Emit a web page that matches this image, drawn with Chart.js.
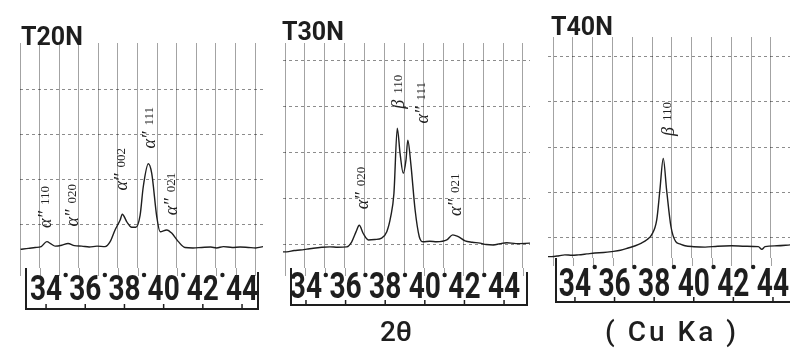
<!DOCTYPE html>
<html>
<head>
<meta charset="utf-8">
<script src="https://cdn.jsdelivr.net/npm/chart.js@4.4.1/dist/chart.umd.min.js"></script>
<style>
body { margin: 0; background: #fff; }
#wrap { position: relative; width: 790px; height: 351px; overflow: hidden; }
#wrap canvas { position: absolute; left: 0; top: 0; }
.ttl { position: absolute; font-family: Roboto, 'DejaVu Sans', sans-serif; font-weight: 700; color: #1e1e1e; font-size: 25px; line-height: 1; }
.cap { position: absolute; font-family: Roboto, 'DejaVu Sans', sans-serif; font-weight: 500; color: #1e1e1e; font-size: 28px; line-height: 1; text-align: center; width: 200px; }
</style>
</head>
<body>
<div id="wrap">
  <canvas id="c20" width="790" height="351"></canvas>
  <canvas id="c30" width="790" height="351"></canvas>
  <canvas id="c40" width="790" height="351"></canvas>
  <div class="ttl" style="left:21px;top:24px">T20N</div>
  <div class="ttl" style="left:282px;top:19px">T30N</div>
  <div class="ttl" style="left:551px;top:14px">T40N</div>
  <div class="cap" style="left:296px;top:318px">2θ</div>
  <div class="cap" style="left:572px;top:318px;letter-spacing:3px">( Cu Ka )</div>
</div>
<script>
// 2theta tick labels, odd-degree dots on the strip
var xTicks = [34, 36, 38, 40, 42, 44];
var xDots = [35, 37, 39, 41, 43];

// T20N trace (2theta, intensity in grid units)
var t20x = [32.70, 33.10, 33.44, 33.75, 34.04, 34.25, 34.46, 34.80, 35.12, 35.45, 35.82, 36.20, 36.60, 37.01, 37.27, 37.52, 37.78, 37.89, 38.12, 38.37, 38.58, 38.80, 38.96, 39.22, 39.39, 39.65, 39.82, 40.16, 40.41, 40.75, 41.09, 41.50, 41.94, 42.40, 42.70, 43.05, 43.50, 43.90, 44.32, 44.70, 45.07];
var t20y = [0.46, 0.48, 0.50, 0.52, 0.63, 0.58, 0.53, 0.55, 0.59, 0.54, 0.53, 0.51, 0.53, 0.52, 0.63, 0.89, 1.11, 1.24, 1.07, 0.95, 0.95, 1.22, 1.85, 2.36, 2.15, 1.18, 0.85, 0.89, 0.82, 0.63, 0.50, 0.49, 0.50, 0.51, 0.49, 0.52, 0.50, 0.51, 0.50, 0.49, 0.52];
var t20Grid = [32.67, 33.67, 34.67, 35.67, 36.67, 37.67, 38.67, 39.67, 40.67, 41.67, 42.67, 43.67, 44.67];
var t20Rows = [1, 2, 3, 4];
var t20PeakPhase = ['α″', 'α″', 'α″', 'α″', 'α″'];
var t20PeakHkl = ['110', '020', '002', '111', '021'];
var t20PeakX = [33.95, 35.33, 37.83, 39.26, 40.38];
var t20PeakY = [1.40, 1.44, 2.24, 3.16, 1.69];

// T30N trace
var t30x = [32.84, 33.03, 33.40, 33.70, 34.05, 34.37, 34.80, 35.21, 35.60, 36.06, 36.31, 36.53, 36.69, 36.89, 37.15, 37.48, 37.82, 38.08, 38.28, 38.44, 38.61, 38.75, 38.91, 39.05, 39.14, 39.29, 39.51, 39.72, 39.92, 40.25, 40.60, 41.11, 41.41, 41.69, 42.03, 42.40, 42.79, 43.10, 43.46, 43.80, 44.14, 44.60, 45.31];
var t30y = [0.85, 0.85, 0.88, 0.89, 0.91, 0.93, 0.95, 0.96, 0.95, 0.96, 1.07, 1.29, 1.43, 1.25, 1.11, 1.12, 1.15, 1.29, 1.62, 2.12, 3.54, 2.99, 2.56, 2.85, 3.28, 2.78, 1.76, 1.18, 1.07, 1.08, 1.07, 1.11, 1.22, 1.18, 1.09, 1.06, 1.04, 1.01, 1.00, 1.03, 1.05, 1.03, 1.04];
var t30Grid = [32.95, 33.95, 34.95, 35.95, 36.95, 37.95, 38.95, 39.95, 40.95, 41.95, 42.95, 43.95, 44.95];
var t30Rows = [1, 2, 3, 4, 5];
var t30PeakPhase = ['α″', 'β', 'α″', 'α″'];
var t30PeakHkl = ['020', '110', '111', '021'];
var t30PeakX = [36.83, 38.65, 39.86, 41.53];
var t30PeakY = [2.24, 4.33, 4.09, 2.09];

// T40N trace
var t40x = [32.64, 32.82, 33.20, 33.49, 33.85, 34.17, 34.60, 35.01, 35.45, 35.85, 36.30, 36.69, 37.05, 37.36, 37.65, 37.87, 38.13, 38.29, 38.46, 38.63, 38.85, 39.09, 39.30, 39.56, 40.00, 40.57, 41.20, 41.91, 42.60, 43.26, 43.44, 43.60, 44.20, 44.86];
var t40y = [0.58, 0.58, 0.60, 0.62, 0.61, 0.62, 0.64, 0.66, 0.67, 0.69, 0.72, 0.77, 0.82, 0.88, 0.96, 1.06, 1.39, 2.05, 2.75, 2.05, 1.24, 0.91, 0.86, 0.82, 0.80, 0.79, 0.81, 0.82, 0.81, 0.80, 0.74, 0.80, 0.82, 0.84];
var t40Grid = [32.9, 33.9, 34.9, 35.9, 36.9, 37.9, 38.9, 39.9, 40.9, 41.9, 42.9, 43.9];
var t40Rows = [1, 2, 3, 4, 5];
var t40PeakPhase = ['β'];
var t40PeakHkl = ['110'];
var t40PeakX = [38.70];
var t40PeakY = [3.62];

var INK = '#1e1e1e';
var GRIDV = 'rgba(0,0,0,0.36)';

// strip under each trace: frame, stubs of the grid, narrow 2theta labels, ticks and dots
var stripPlugin = {
    id: 'strip',
    afterDraw: function(chart, args, o) {
        var xs = chart.scales.x, a = chart.chartArea, ctx = chart.ctx;
        var top = a.bottom, bot = top + o.ruleY;
        var l = a.left + o.inset, r = a.right - o.rightInset;
        ctx.save();
        // grid stubs
        ctx.strokeStyle = GRIDV;
        ctx.lineWidth = 1;
        o.grid.forEach(function(v) {
            var px = Math.round(xs.getPixelForValue(v)) + 0.5;
            ctx.beginPath();
            ctx.moveTo(px, top);
            ctx.lineTo(px, top + 8);
            ctx.stroke();
        });
        // labels, squeezed to the narrow chart lettering
        ctx.fillStyle = INK;
        ctx.font = 'bold ' + o.fontSize + 'px Roboto, sans-serif';
        ctx.textAlign = 'center';
        ctx.textBaseline = 'alphabetic';
        xs.ticks.forEach(function(t) {
            var px = xs.getPixelForValue(t.value);
            ctx.save();
            ctx.translate(px, top + o.labelBase);
            ctx.scale(o.squeeze, 1);
            ctx.fillText(String(t.value), 0, 0);
            ctx.restore();
        });
        // frame
        ctx.strokeStyle = INK;
        ctx.lineWidth = 2;
        ctx.beginPath();
        ctx.moveTo(l, top);
        ctx.lineTo(l, bot);
        ctx.lineTo(r, bot);
        if (o.closeRight) ctx.lineTo(r, top + 4);
        ctx.stroke();
        ctx.lineWidth = 1.5;
        xs.ticks.forEach(function(t) {
            var px = xs.getPixelForValue(t.value);
            ctx.beginPath();
            ctx.moveTo(px, bot);
            ctx.lineTo(px, bot - 5);
            ctx.stroke();
        });
        xDots.forEach(function(v) {
            var px = xs.getPixelForValue(v);
            if (px > a.right - 2) return;
            ctx.beginPath();
            ctx.arc(px, top + o.dotY, 2.2, 0, Math.PI * 2);
            ctx.fill();
        });
        ctx.restore();
    }
};

// rotated peak labels (alpha'' hkl / beta hkl)
var peakPlugin = {
    id: 'peaks',
    afterDatasetsDraw: function(chart, args, o) {
        var xs = chart.scales.x, ys = chart.scales.y, ctx = chart.ctx;
        var symFont = 'italic 18px "Liberation Serif", serif';
        var hklFont = '13px "Liberation Serif", serif';
        o.phase.forEach(function(ph, i) {
            var px = xs.getPixelForValue(o.px[i]), py = ys.getPixelForValue(o.py[i]);
            ctx.save();
            ctx.translate(px, py);
            ctx.rotate(-Math.PI / 2);
            ctx.fillStyle = '#222';
            ctx.textBaseline = 'middle';
            ctx.font = symFont;
            var w1 = ctx.measureText(ph).width;
            ctx.font = hklFont;
            var w2 = ctx.measureText(o.hkl[i]).width;
            var gap = 6, total = w1 + gap + w2;
            ctx.font = symFont;
            ctx.fillText(ph, -total / 2, 1);
            ctx.font = hklFont;
            ctx.fillText(o.hkl[i], -total / 2 + w1 + gap, 0);
            ctx.restore();
        });
    }
};

function panel(id, xs, ys, p) {
    var pts = xs.map(function(x, i) { return { x: x, y: ys[i] }; });
    p.strip.grid = p.grid;
    return new Chart(document.getElementById(id), {
        type: 'line',
        data: {
            datasets: [{
                data: pts, borderColor: INK, borderWidth: 1.4,
                pointRadius: 0, cubicInterpolationMode: 'monotone', fill: false
            }]
        },
        options: {
            responsive: false, animation: false, events: [],
            layout: { padding: p.pad },
            plugins: {
                legend: { display: false }, tooltip: { enabled: false },
                strip: p.strip,
                peaks: { phase: p.phase, hkl: p.hkl, px: p.px, py: p.py }
            },
            scales: {
                x: {
                    type: 'linear', min: p.xmin, max: p.xmax, position: 'bottom',
                    afterBuildTicks: function(s) { s.ticks = xTicks.map(function(v) { return { value: v }; }); },
                    afterFit: function(s) { s.height = p.stripH; },
                    grid: { display: false }, border: { display: false },
                    ticks: { display: false }
                },
                xg: {
                    type: 'linear', min: p.xmin, max: p.xmax, position: 'top',
                    afterBuildTicks: function(s) { s.ticks = p.grid.map(function(v) { return { value: v }; }); },
                    afterFit: function(s) { s.height = 0; },
                    grid: { color: GRIDV, lineWidth: 1, drawTicks: false },
                    border: { display: false }, ticks: { display: false }
                },
                y: {
                    min: p.ymin, max: p.ymax,
                    afterBuildTicks: function(s) { s.ticks = p.rows.map(function(v) { return { value: v }; }); },
                    afterFit: function(s) { s.width = 0; },
                    grid: { color: 'rgba(0,0,0,0.45)', lineWidth: 1, drawTicks: false },
                    border: { display: false, dash: [3, 3] }, ticks: { display: false }
                }
            }
        },
        plugins: [stripPlugin, peakPlugin]
    });
}

panel('c20', t20x, t20y, {
    pad: { left: 20, right: 527, top: 43, bottom: 40 }, stripH: 43,
    xmin: 32.67, xmax: 45.07, ymin: 0.044, ymax: 5.044,
    grid: t20Grid, rows: t20Rows,
    strip: { inset: 6, rightInset: 5, closeRight: true, dotY: 7, ruleY: 41, labelBase: 32, fontSize: 35, squeeze: 0.8 },
    phase: t20PeakPhase, hkl: t20PeakHkl, px: t20PeakX, py: t20PeakY
});
panel('c30', t30x, t30y, {
    pad: { left: 283, right: 260, top: 43, bottom: 40 }, stripH: 43,
    xmin: 32.84, xmax: 45.31, ymin: 0.50, ymax: 5.39,
    grid: t30Grid, rows: t30Rows,
    strip: { inset: 8, rightInset: 3, closeRight: true, dotY: 7, ruleY: 37, labelBase: 30, fontSize: 36, squeeze: 0.78 },
    phase: t30PeakPhase, hkl: t30PeakHkl, px: t30PeakX, py: t30PeakY
});
panel('c40', t40x, t40y, {
    pad: { left: 548, right: 0, top: 37, bottom: 40 }, stripH: 53,
    xmin: 32.64, xmax: 44.86, ymin: 0.55, ymax: 5.43,
    grid: t40Grid, rows: t40Rows,
    strip: { inset: 8, rightInset: 0, closeRight: false, dotY: 9, ruleY: 44, labelBase: 38, fontSize: 39, squeeze: 0.72 },
    phase: t40PeakPhase, hkl: t40PeakHkl, px: t40PeakX, py: t40PeakY
});
</script>
</body>
</html>
